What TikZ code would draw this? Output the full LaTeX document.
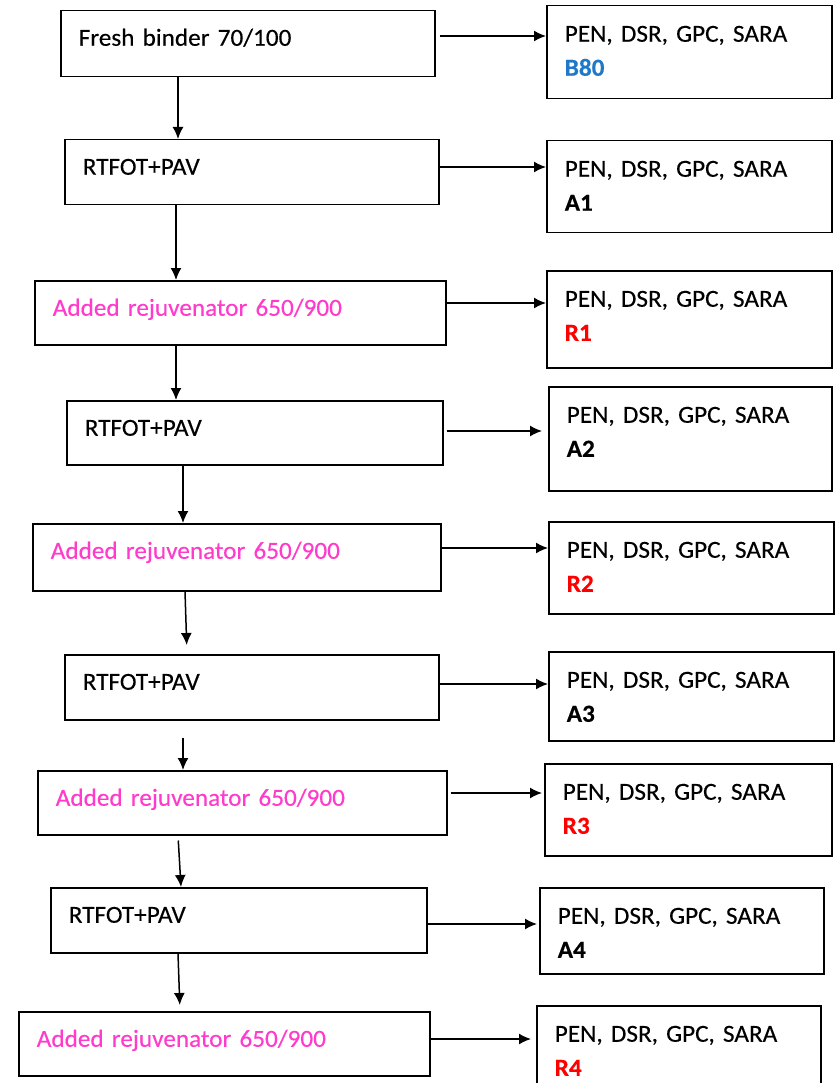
\documentclass[tikz,border=0pt]{standalone}
\usepackage{fontspec}
\setmainfont[FakeStretch=1.03,FakeBold=0.3]{Carlito}
\usepackage{tikz}
\usetikzlibrary{positioning,arrows.meta,calc}
\definecolor{pinkrej}{HTML}{FF3BCB}
\definecolor{blueref}{HTML}{1F78C8}
\definecolor{redrej}{HTML}{FF0000}

\tikzset{
	stage/.style={draw=black,line width=1.5pt,rectangle,anchor=north west,inner ysep=0pt,inner xsep=18pt,align=left,font=\fontsize{24.5}{26}\selectfont,text height=35pt},
	test/.style={draw=black,line width=1.5pt,rectangle,anchor=north west,inner ysep=0pt,inner xsep=18pt,align=left,font=\fontsize{24.5}{34}\selectfont,text height=36pt},
	flow/.style={draw=black,line width=1.5pt,-{Latex[length=12pt,width=11pt]}}
}
\newcommand{\rej}{\textcolor{pinkrej}{Added rejuvenator 650/900}}
\newcommand{\tests}{PEN, DSR, GPC, SARA}

\begin{document}
\begin{tikzpicture}[x=1pt,y=-1pt]
			\useasboundingbox (0,0) rectangle (835,1083);
			% process column
			\node[stage,text width=338pt,text depth=31pt] (l1) at (60,10) {Fresh binder 70/100};
			\node[stage,text width=338pt,text depth=30pt] (l2) at (64,139) {RTFOT+PAV};
			\node[stage,text width=375pt,text depth=29pt] (l3) at (34,280) {\rej};
			\node[stage,text width=340pt,text depth=29pt] (l4) at (66,400) {RTFOT+PAV};
			\node[stage,text width=372pt,text depth=32pt] (l5) at (32,523) {\rej};
			\node[stage,text width=338pt,text depth=30pt] (l6) at (64,654) {RTFOT+PAV};
			\node[stage,text width=373pt,text depth=29pt] (l7) at (37,770) {\rej};
			\node[stage,text width=340pt,text depth=30pt] (l8) at (50,887) {RTFOT+PAV};
			\node[stage,text width=375pt,text depth=29pt] (l9) at (18,1011) {\rej};
			
			% test column
			\node[test,text width=249pt,text depth=57pt] (r1) at (546,5) {\tests\\\textbf{\textcolor{blueref}{B80}}};
			\node[test,text width=249pt,text depth=56pt] (r2) at (546,140) {\tests\\\textbf{A1}};
			\node[test,text width=249pt,text depth=61pt] (r3) at (546,270) {\tests\\\textbf{\textcolor{redrej}{R1}}};
			\node[test,text width=247pt,text depth=68pt] (r4) at (548,386) {\tests\\\textbf{A2}};
			\node[test,text width=249pt,text depth=56pt] (r5) at (548,521) {\tests\\\textbf{\textcolor{redrej}{R2}}};
			\node[test,text width=249pt,text depth=53pt] (r6) at (548,651) {\tests\\\textbf{A3}};
			\node[test,text width=251pt,text depth=56pt] (r7) at (544,763) {\tests\\\textbf{\textcolor{redrej}{R3}}};
			\node[test,text width=248pt,text depth=50pt] (r8) at (539,887) {\tests\\\textbf{A4}};
			\node[test,text width=248pt,text depth=49pt] (r9) at (536,1005) {\tests\\\textbf{\textcolor{redrej}{R4}}};
			
			% downward arrows
			\draw[flow] (l1.south -| 178,0) -- (l2.north -| 178,0);
			\draw[flow] (l2.south -| 176,0) -- (l3.north -| 176,0);
			\draw[flow] (l3.south -| 176,0) -- (l4.north -| 176,0);
			\draw[flow] (l4.south -| 183,0) -- (l5.north -| 183,0);
			\draw[flow,shorten >=9pt] (l5.south -| 185,0) -- (l6.north -| 187,0);
			\draw[flow,shorten <=17pt] (l6.south -| 183,0) -- (l7.north -| 183,0);
			\draw[flow,shorten <=5pt] (l7.south -| 178,0) -- (l8.north -| 181,0);
			\draw[flow,shorten >=6pt] (l8.south -| 178,0) -- (l9.north -| 180,0);
			
			% arrows to the tests
			\draw[flow,shorten <=4pt] (l1.east |- 0,36) -- (r1.west |- 0,36);
			\draw[flow] (l2.east |- 0,167) -- (r2.west |- 0,167);
			\draw[flow] (l3.east |- 0,303) -- (r3.west |- 0,303);
			\draw[flow,shorten <=3pt,shorten >=6pt] (l4.east |- 0,431) -- (r4.west |- 0,431);
			\draw[flow] (l5.east |- 0,548) -- (r5.west |- 0,548);
			\draw[flow] (l6.east |- 0,684) -- (r6.west |- 0,684);
			\draw[flow,shorten <=3pt,shorten >=2pt] (l7.east |- 0,793) -- (r7.west |- 0,793);
			\draw[flow,shorten >=2pt] (l8.east |- 0,924) -- (r8.west |- 0,924);
			\draw[flow,shorten >=5pt] (l9.east |- 0,1039) -- (r9.west |- 0,1039);
			\end{tikzpicture}
\end{document}
